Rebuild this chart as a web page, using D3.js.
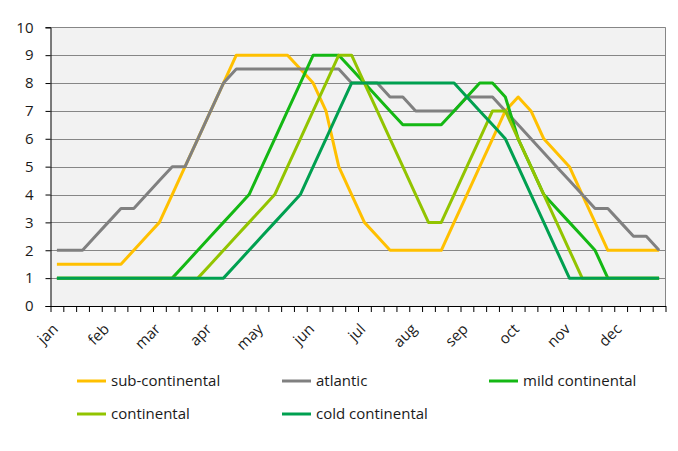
<!DOCTYPE html>
<html><head><meta charset="utf-8">
<script src="https://cdn.jsdelivr.net/npm/d3@7"></script>
<style>
html,body{margin:0;padding:0;background:#fff;}
text{font-family:"Open Sans","Noto Sans",sans-serif;}
</style></head>
<body><svg id="c" width="678" height="451"></svg>
<script>
const months = ["jan","feb","mar","apr","may","jun","jul","aug","sep","oct","nov","dec"];
const yTicks = [0,1,2,3,4,5,6,7,8,9,10];
const seriesNames = ["sub-continental","atlantic","mild continental","continental","cold continental"];
const subContinental = [1.5,1.5,1.5,1.5,1.5,1.5,2,2.5,3,4,5,6,7,8,9,9,9,9,9,8.5,8,7,5,4,3,2.5,2,2,2,2,2,3,4,5,6,7,7.5,7,6,5.5,5,4,3,2,2,2,2,2];
const atlantic = [2,2,2,2.5,3,3.5,3.5,4,4.5,5,5,6,7,8,8.5,8.5,8.5,8.5,8.5,8.5,8.5,8.5,8.5,8,8,8,7.5,7.5,7,7,7,7,7.5,7.5,7.5,7,6.5,6,5.5,5,4.5,4,3.5,3.5,3,2.5,2.5,2];
const mildContinental = [1,1,1,1,1,1,1,1,1,1,1.5,2,2.5,3,3.5,4,5,6,7,8,9,9,9,8.5,8,7.5,7,6.5,6.5,6.5,6.5,7,7.5,8,8,7.5,6,5,4,3.5,3,2.5,2,1,1,1,1,1];
const continental = [1,1,1,1,1,1,1,1,1,1,1,1,1.5,2,2.5,3,3.5,4,5,6,7,8,9,9,8,7,6,5,4,3,3,4,5,6,7,7,6,5,4,3,2,1,1,1,1,1,1,1];
const coldContinental = [1,1,1,1,1,1,1,1,1,1,1,1,1,1,1.5,2,2.5,3,3.5,4,5,6,7,8,8,8,8,8,8,8,8,8,7.5,7,6.5,6,5,4,3,2,1,1,1,1,1,1,1,1];
const seriesColors = ["#FFC000","#808080","#14B814","#92C400","#00A050"];

const series = [subContinental, atlantic, mildContinental, continental, coldContinental];
const nPts = subContinental.length;

const svg = d3.select("#c");
const L = 50.5, R = 665.5, T = 27.3, B = 306;

const x = d3.scaleBand().domain(d3.range(nPts)).range([L, R]);
const xb = d3.scaleLinear().domain([0, nPts]).range([L, R]);
const y = d3.scaleLinear().domain([0, 10]).range([B, T]);
const cx = i => x(i) + x.bandwidth() / 2;

svg.append("rect").attr("width",678).attr("height",451).attr("fill","#fff");
svg.append("rect").attr("x",L).attr("y",T).attr("width",R-L).attr("height",B-T).attr("fill","#F2F2F2");

// gridlines
svg.append("g").selectAll("line").data(yTicks.filter(d=>d>0)).join("line")
  .attr("x1",L).attr("x2",R).attr("y1",d=>Math.round(y(d))+0.5).attr("y2",d=>Math.round(y(d))+0.5)
  .attr("stroke","#868686").attr("stroke-width",1);
// right border
svg.append("line").attr("x1",R).attr("x2",R).attr("y1",T).attr("y2",B).attr("stroke","#868686");

// lines
const line = d3.line().x((d,i)=>cx(i)).y(d=>y(d));
series.forEach((s,k)=>{
  svg.append("path").datum(s).attr("d",line).attr("fill","none")
    .attr("stroke",seriesColors[k]).attr("stroke-width",3).attr("stroke-linejoin","round");
});

// y axis
const ya = svg.append("g").attr("transform",`translate(${L},0)`)
  .call(d3.axisLeft(y).tickValues(yTicks).tickSize(5).tickPadding(12).tickFormat(d3.format("d")));
ya.select(".domain").attr("stroke","#000");
ya.selectAll(".tick line").attr("stroke","#000");
ya.selectAll("text").attr("font-size",15).attr("fill","#1a1a1a");

// x axis
const xa = svg.append("g").attr("transform",`translate(0,${B})`)
  .call(d3.axisBottom(xb).tickValues(d3.range(nPts+1)).tickSize(6).tickSizeOuter(0).tickFormat(""));
xa.select(".domain").attr("stroke","#000");
xa.selectAll(".tick line").attr("stroke","#000");

svg.append("g").selectAll("text").data(months).join("text")
  .attr("transform",(d,i)=>`translate(${cx(i*4)+2},${B+24}) rotate(-45)`)
  .attr("text-anchor","end").attr("font-size",15).attr("fill","#1a1a1a").text(d=>d);

// legend
const legendPos = [[77,381],[282,381],[489,381],[77,414],[282,414]];
const lg = svg.append("g").selectAll("g").data(seriesNames).join("g")
  .attr("transform",(d,i)=>`translate(${legendPos[i][0]},${legendPos[i][1]})`);
lg.append("line").attr("x1",0).attr("x2",29).attr("y1",0).attr("y2",0)
  .attr("stroke",(d,i)=>seriesColors[i]).attr("stroke-width",3);
lg.append("text").attr("x",34).attr("y",5).attr("font-size",15).attr("fill","#1a1a1a").text(d=>d);
</script></body></html>
